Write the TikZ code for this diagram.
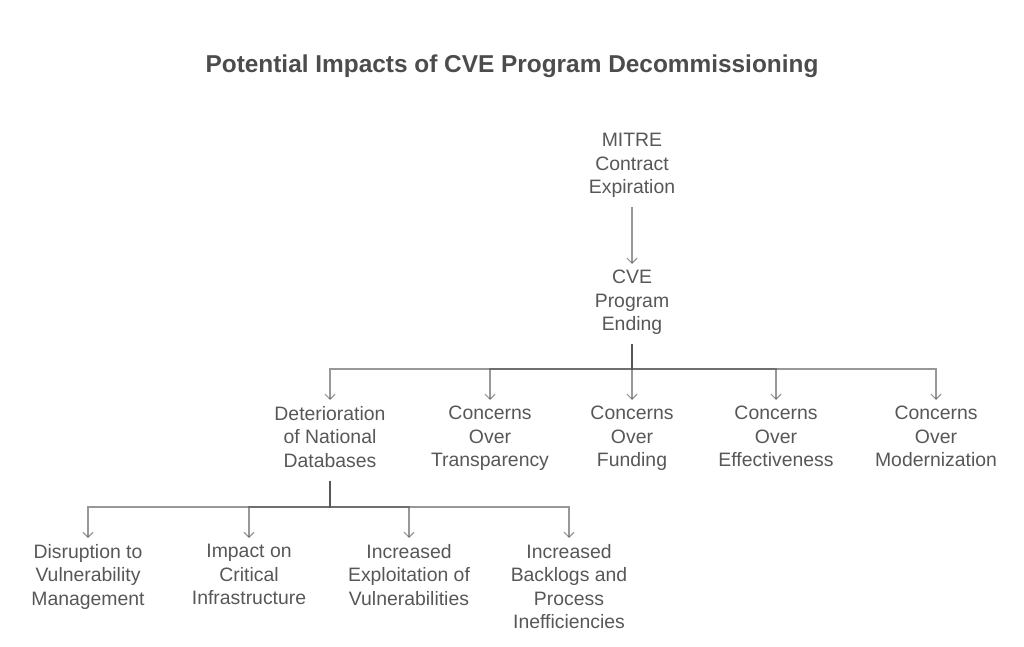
\documentclass[tikz,border=0pt]{standalone}
\usepackage{fontspec}
\setmainfont{Liberation Sans}
\usepackage{tikz}
\usetikzlibrary{arrows.meta}

\begin{document}
\begin{tikzpicture}[x=1pt,y=-1pt,
	label/.style={align=center,anchor=north,inner xsep=0pt,inner ysep=6pt,text=clabel,
		font=\fontsize{19.4}{23.5}\selectfont,
		execute at begin node=\strut,execute at end node=\strut},
	edge/.style={draw=cedge,opacity=0.6,line width=1.2pt,-{Straight Barb[length=5pt,width=10pt]}}]
			\definecolor{clabel}{rgb}{0.34,0.34,0.34}
			\definecolor{ctitle}{rgb}{0.30,0.30,0.30}
			\definecolor{cedge}{rgb}{0.33,0.33,0.33}
			%
			\useasboundingbox (0,0) rectangle (1024,647);
			\node[anchor=base,text=ctitle,font=\fontsize{24.4}{28}\selectfont\bfseries] (title) at (512,73) {Potential Impacts of CVE Program Decommissioning};
			%
			\node[label] (mitre) at (632,127) {MITRE\\Contract\\Expiration};
			\node[label] (cve) at (632,264) {CVE\\Program\\Ending};
			%
			\node[label] (deter) at (330,400) {Deterioration\\of National\\Databases};
			\node[label] (transp) at (490,400) {Concerns\\Over\\Transparency};
			\node[label] (fund) at (632,400) {Concerns\\Over\\Funding};
			\node[label] (effect) at (776,400) {Concerns\\Over\\Effectiveness};
			\node[label] (modern) at (936,400) {Concerns\\Over\\Modernization};
			%
			\node[label] (disrupt) at (88,538) {Disruption to\\Vulnerability\\Management};
			\node[label] (infra) at (249,538) {Impact on\\Critical\\Infrastructure};
			\node[label] (exploit) at (409,538) {Increased\\Exploitation of\\Vulnerabilities};
			\node[label] (backlog) at (569,538) {Increased\\Backlogs and\\Process\\Inefficiencies};
			%
			\coordinate (bar1) at (632,369);
			\coordinate (bar2) at (330,507);
			%
			\draw[edge] (mitre.south) -- (cve.north);
			\draw[edge] (cve.south) -- (cve.south |- bar1) -| (deter.north);
			\draw[edge] (cve.south) -- (cve.south |- bar1) -| (transp.north);
			\draw[edge] (cve.south) -- (fund.north);
			\draw[edge] (cve.south) -- (cve.south |- bar1) -| (effect.north);
			\draw[edge] (cve.south) -- (cve.south |- bar1) -| (modern.north);
			%
			\draw[edge] (deter.south) -- (deter.south |- bar2) -| (disrupt.north);
			\draw[edge] (deter.south) -- (deter.south |- bar2) -| (infra.north);
			\draw[edge] (deter.south) -- (deter.south |- bar2) -| (exploit.north);
			\draw[edge] (deter.south) -- (deter.south |- bar2) -| (backlog.north);
			%
		\end{tikzpicture}
\end{document}
